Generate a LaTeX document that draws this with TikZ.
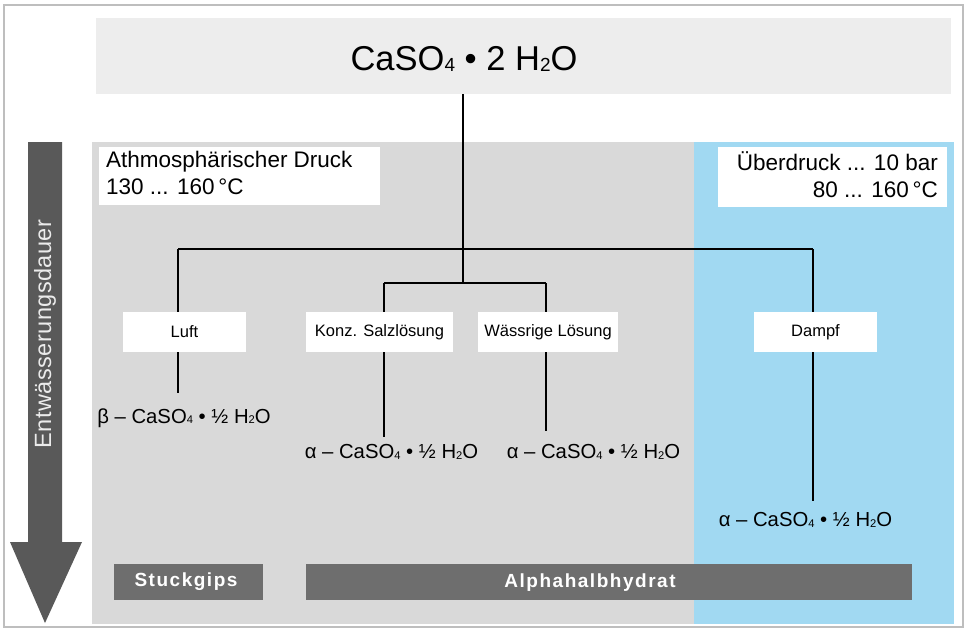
\documentclass[tikz,border=0pt]{standalone}
\usepackage{fontspec}
\usepackage{graphicx}
\setmainfont{Liberation Sans}
\newfontfamily\barfont[LetterSpace=8]{Liberation Sans}
\newfontfamily\vertfont[LetterSpace=2]{Liberation Sans}
\newcommand\sbd[1]{\raisebox{-0.03em}{\scalebox{0.55}{#1}}}
\definecolor{outerc}{HTML}{BEBEBE}
\definecolor{topc}{HTML}{EDEDED}
\definecolor{grayc}{HTML}{D9D9D9}
\definecolor{bluec}{HTML}{A1D9F2}
\definecolor{arrowc}{HTML}{595959}
\definecolor{barc}{HTML}{6E6E6E}
\begin{document}
\begin{tikzpicture}[x=1pt,y=-1pt,
  whitebox/.style={fill=white,draw=none,inner sep=0pt},
  methodbox/.style={whitebox,minimum height=40,font=\fontsize{16.5}{18}\selectfont},
  barbox/.style={fill=barc,draw=none,inner sep=0pt,minimum height=36},
  bartext/.style={text=white,font=\fontsize{19}{21}\barfont\bfseries},
  formula/.style={inner sep=0pt,font=\fontsize{20.3}{22}\selectfont},
  infotext/.style={inner sep=0pt,font=\fontsize{22.5}{27}\selectfont},
  tree/.style={line width=2pt,black}]
\useasboundingbox (0,0) rectangle (967,632);
% frame and regions
\draw[outerc,line width=1.5pt] (4,5) rectangle (963,627);
\fill[topc] (96,18) rectangle (951,94);
\fill[grayc] (92,142) rectangle (694,624);
\fill[bluec] (694,142) rectangle (954,624);
% time arrow
\fill[arrowc] (28,142) -- (62,142) -- (62,542) -- (82,542) -- (45,623) -- (10,542) -- (28,542) -- cycle;
\node[rotate=90,text=white!92!black,inner sep=0pt,font=\fontsize{23.5}{26}\vertfont] (dauer) at (45,334) {Entwässerungsdauer};
% top formula
\node[inner sep=0pt,font=\fontsize{34.5}{38}\selectfont] (title) at (464,59) {CaSO\sbd{4} • 2 H\sbd{2}O};
\coordinate (topbottom) at (463,94);
% info boxes
\node[whitebox,minimum width=281,minimum height=58,anchor=north west] (atm) at (99,147) {};
\node[infotext,align=left,anchor=north west] (atmtext) at (106,151) {Athmosphärischer Druck\\130 ... 160\,°C};
\node[whitebox,minimum width=229,minimum height=60,anchor=north west] (ueb) at (718,147) {};
\node[infotext,align=right,anchor=north east] (uebtext) at (938,151) {Überdruck ... 10 bar\\80 ... 160\,°C};
% tree coordinates
\coordinate (j) at (463,249);
\coordinate (jl) at (178,249);
\coordinate (jr) at (813,249);
\coordinate (j2) at (463,283);
\coordinate (j2l) at (384,283);
\coordinate (j2r) at (546,283);
\coordinate (eluft) at (178,393);
\coordinate (ekonz) at (384,437);
\coordinate (ewass) at (546,431);
\coordinate (edampf) at (813,501);
% connectors
\draw[tree] (topbottom) -- (j);
\draw[tree] (jl) -- (jr);
\draw[tree] (j) -- (j2);
\draw[tree] (j2l) -- (j2r);
\draw[tree] (jl) -- (eluft);
\draw[tree] (j2l) -- (ekonz);
\draw[tree] (j2r) -- (ewass);
\draw[tree] (jr) -- (edampf);
% method boxes
\node[methodbox,minimum width=123] (luft) at (184.5,332) {Luft};
\node[methodbox,minimum width=147] (konz) at (379.5,332) {Konz. Salzlösung};
\node[methodbox,minimum width=140] (wass) at (548,332) {Wässrige Lösung};
\node[methodbox,minimum width=123] (dampf) at (815.5,332) {Dampf};
% products
\node[formula] (beta) at (184,418) {β – CaSO\sbd{4} • ½ H\sbd{2}O};
\node[formula] (alpha1) at (391.5,452) {α – CaSO\sbd{4} • ½ H\sbd{2}O};
\node[formula] (alpha2) at (593.5,452) {α – CaSO\sbd{4} • ½ H\sbd{2}O};
\node[formula] (alpha3) at (805.5,520) {α – CaSO\sbd{4} • ½ H\sbd{2}O};
% bars
\node[barbox,minimum width=149,anchor=north west] (stuck) at (114,564) {};
\node[bartext] (stucktext) at (186,582) {Stuckgips};
\node[barbox,minimum width=606,anchor=north west] (alphabar) at (306,564) {};
\node[bartext] (alphatext) at (590,583) {Alphahalbhydrat};
\end{tikzpicture}
\end{document}
